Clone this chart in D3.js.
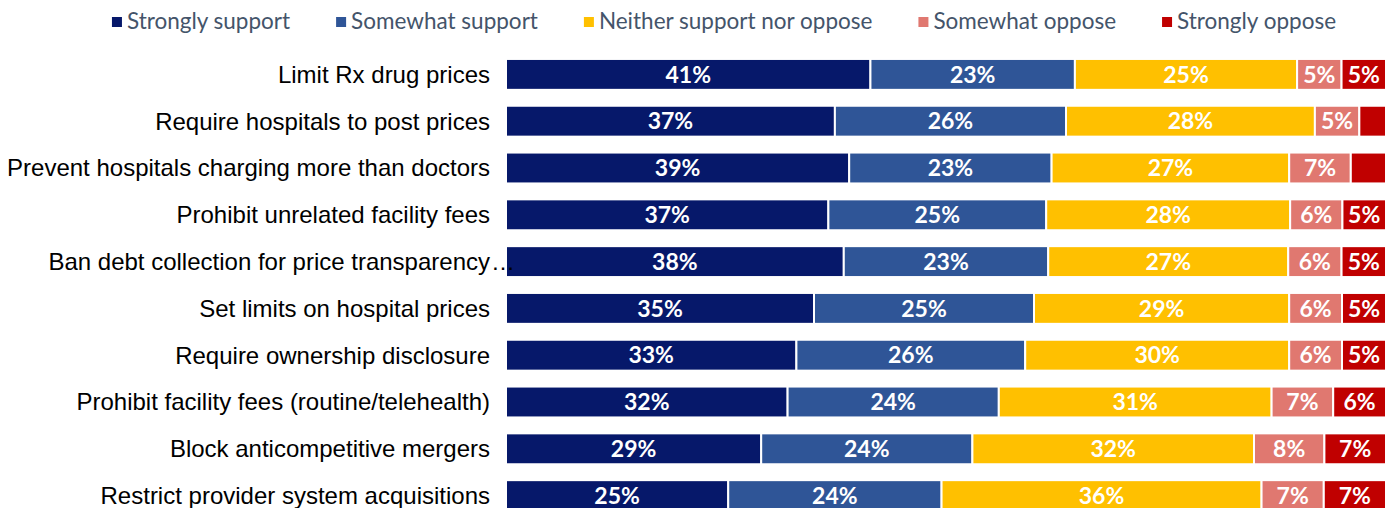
<!DOCTYPE html>
<html>
<head>
<meta charset="utf-8">
<script src="https://cdn.jsdelivr.net/npm/d3@7"></script>
<style>
  body { margin: 0; background: #fff; }
  svg { display: block; }
</style>
</head>
<body>
<div id="chart"></div>
<script>
// survey rows, top to bottom
var categories = [
  "Limit Rx drug prices",
  "Require hospitals to post prices",
  "Prevent hospitals charging more than doctors",
  "Prohibit unrelated facility fees",
  "Ban debt collection for price transparency\u2026",
  "Set limits on hospital prices",
  "Require ownership disclosure",
  "Prohibit facility fees (routine/telehealth)",
  "Block anticompetitive mergers",
  "Restrict provider system acquisitions"
];

var seriesNames = ["Strongly support", "Somewhat support", "Neither support nor oppose", "Somewhat oppose", "Strongly oppose"];
var seriesColors = ["#06186A", "#2F5597", "#FFC000", "#E07870", "#C00000"];

var stronglySupport = [41, 37, 39, 37, 38, 35, 33, 32, 29, 25];
var somewhatSupport = [23, 26, 23, 25, 23, 25, 26, 24, 24, 24];
var neither         = [25, 28, 27, 28, 27, 29, 30, 31, 32, 36];
var somewhatOppose  = [5, 5, 7, 6, 6, 6, 6, 7, 8, 7];
var stronglyOppose  = [5, 3, 4, 5, 5, 5, 5, 6, 7, 7];

var W = 1394, H = 508;
var m = {l: 506, r: 8, t: 51};

var svg = d3.select("#chart").append("svg")
  .attr("width", W).attr("height", H);

// build rows for the stack
var cols = [stronglySupport, somewhatSupport, neither, somewhatOppose, stronglyOppose];
var table = categories.map(function(c, i){
  var row = {cat: c};
  seriesNames.forEach(function(s, k){ row[s] = cols[k][i]; });
  return row;
});

var stacked = d3.stack().keys(seriesNames).offset(d3.stackOffsetExpand)(table);

var x = d3.scaleLinear().domain([0, 1]).range([m.l, W - m.r]);
var y = d3.scaleBand().domain(categories)
  .range([m.t, m.t + 468])
  .paddingInner(0.34).paddingOuter(0.17);
var color = d3.scaleOrdinal().domain(seriesNames).range(seriesColors);

// bars
var layers = svg.append("g").attr("class", "bars")
  .selectAll("g").data(stacked).enter().append("g")
  .attr("fill", function(d){ return color(d.key); });

layers.selectAll("rect").data(function(d){ return d; }).enter().append("rect")
  .attr("x", function(d){ return x(d[0]); })
  .attr("y", function(d){ return y(d.data.cat); })
  .attr("width", function(d){ return x(d[1]) - x(d[0]); })
  .attr("height", y.bandwidth())
  .attr("stroke", "#fff")
  .attr("stroke-width", 2);

// value labels (small slices stay unlabelled)
var labels = svg.append("g").attr("class", "values");
stacked.forEach(function(layer){
  layer.forEach(function(d){
    var v = d.data[layer.key];
    if (v < 5) return;
    labels.append("text")
      .attr("x", (x(d[0]) + x(d[1])) / 2)
      .attr("y", y(d.data.cat) + y.bandwidth() / 2)
      .attr("dy", "0.36em")
      .attr("text-anchor", "middle")
      .attr("fill", "#fff")
      .style("font-family", "Lato, 'Open Sans', sans-serif")
      .style("font-weight", 700)
      .style("font-size", "23px")
      .text(v + "%");
  });
});

// category labels
var catG = svg.append("g").attr("class", "cats")
  .style("font-family", "'Liberation Sans', Arial, sans-serif")
  .style("font-size", "24px")
  .attr("fill", "#000");
categories.forEach(function(c){
  var cut = c.endsWith("\u2026");
  var yc = y(c) + y.bandwidth() / 2;
  catG.append("text")
    .attr("x", m.l - 16).attr("y", yc).attr("dy", "0.35em")
    .attr("text-anchor", "end")
    .text(cut ? c.slice(0, -1) : c);
  if (cut) {
    catG.append("text")
      .attr("x", m.l - 15).attr("y", yc).attr("dy", "0.35em")
      .text("\u2026");
  }
});

// legend
var leg = svg.append("g").attr("class", "legend");
var items = leg.selectAll("g").data(seriesNames).enter().append("g");
items.append("rect")
  .attr("width", 10).attr("height", 10)
  .attr("y", -12)
  .attr("fill", function(d){ return color(d); });
items.append("text")
  .attr("x", 15)
  .attr("fill", "#44546A")
  .style("font-family", "Lato, 'Open Sans', sans-serif")
  .style("font-size", "22.5px")
  .text(function(d){ return d; });

var gap = 46, lx = 0;
items.each(function(){
  var g = d3.select(this);
  g.attr("transform", "translate(" + lx + ",0)");
  lx += 15 + g.select("text").node().getComputedTextLength() + gap;
});
lx -= gap;
leg.attr("transform", "translate(" + (724 - lx / 2) + ",29)");
</script>
</body>
</html>
